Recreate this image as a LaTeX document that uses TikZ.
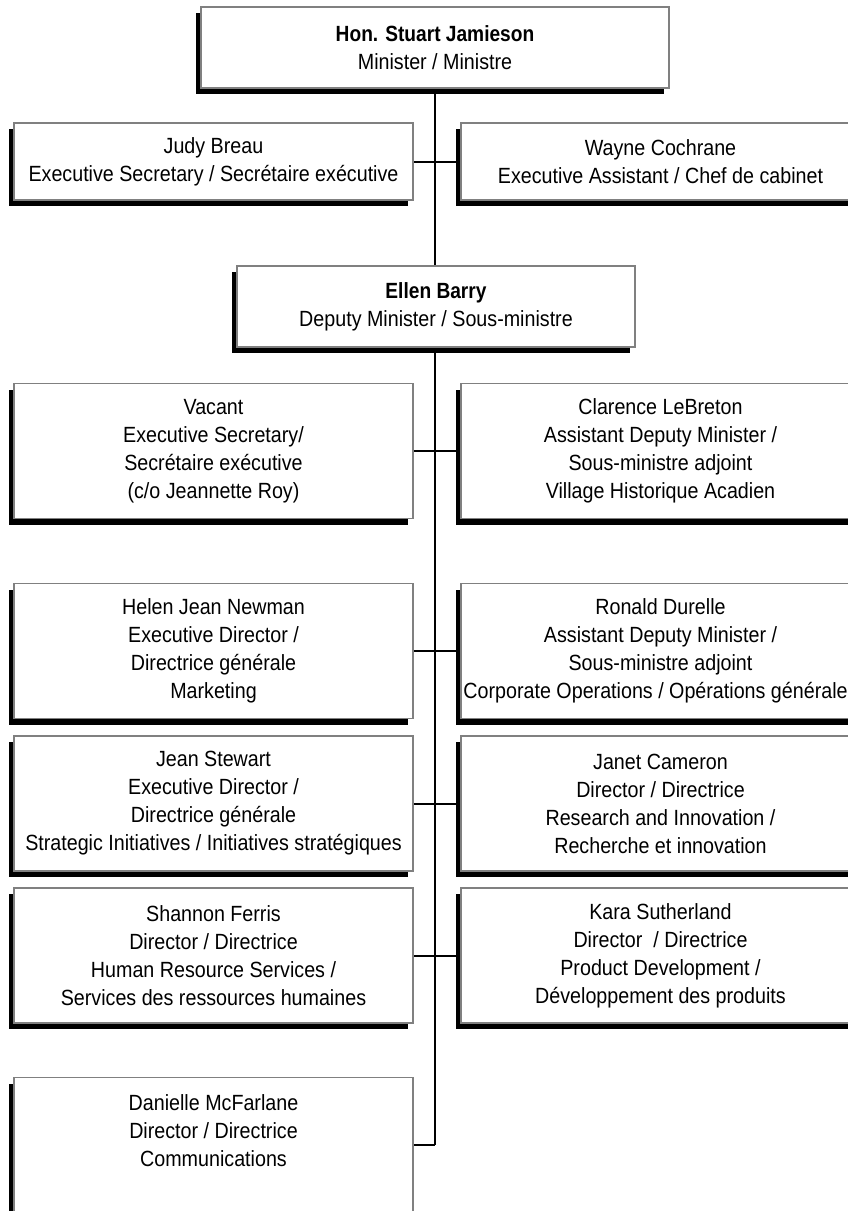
\documentclass[tikz,border=0pt]{standalone}
\usepackage{fontspec}
\setmainfont{Liberation Sans}[FakeStretch=0.895,BoldFeatures={FakeStretch=0.87}]
\usetikzlibrary{shadows,backgrounds}
\definecolor{boxgray}{RGB}{128,128,128}
\tikzset{
  orgbox/.style={draw=boxgray, line width=1.5pt, fill=white, align=center,
    inner sep=0pt, minimum width=399pt, minimum height=135pt,
    font=\fontsize{22}{28}\selectfont,
    drop shadow={shadow xshift=-5pt, shadow yshift=-6pt, fill=black, opacity=1}},
  link/.style={line width=2pt, draw=black}
}
\begin{document}
\begin{tikzpicture}[x=1pt,y=-1pt]
\useasboundingbox (0,0) rectangle (848,1211);
\clip (0,0) rectangle (848,1211);
% top
\node[orgbox, minimum width=468pt, minimum height=81pt] (min) at (435,47.5)
  {\textbf{Hon. Stuart Jamieson}\\Minister / Ministre};
\node[orgbox, minimum height=77pt] (judy) at (213.5,161.5)
  {Judy Breau\\Executive Secretary / Secrétaire exécutive};
\node[orgbox, minimum height=77pt] (wayne) at (660.5,161.5)
  {Wayne Cochrane\\Executive Assistant / Chef de cabinet};
\node[orgbox, minimum width=398pt, minimum height=81pt] (dm) at (436,306.5)
  {\textbf{Ellen Barry}\\Deputy Minister / Sous-ministre};
% row A
\node[orgbox] (vac) at (213.5,451)
  {Vacant\\Executive Secretary/\\ Secrétaire exécutive\\(c/o Jeannette Roy)};
\node[orgbox] (clar) at (660.5,451)
  {Clarence LeBreton\\Assistant Deputy Minister /\\Sous-ministre adjoint\\Village Historique Acadien};
% row B
\node[orgbox] (helen) at (213.5,651)
  {Helen Jean Newman\\Executive Director /\\Directrice générale\\Marketing};
\node[orgbox] (ron) at (660.5,651)
  {Ronald Durelle\\Assistant Deputy Minister /\\Sous-ministre adjoint\\Corporate Operations / Opérations générales};
% row C
\node[orgbox] (jean) at (213.5,803.5)
  {Jean Stewart\\Executive Director /\\Directrice générale\\Strategic Initiatives / Initiatives stratégiques};
\node[orgbox] (janet) at (660.5,803.5)
  {Janet Cameron\\Director / Directrice\\Research and Innovation /\\Recherche et innovation};
% row D
\node[orgbox] (shan) at (213.5,955.5)
  {Shannon Ferris\\Director / Directrice\\Human Resource Services /\\Services des ressources humaines};
\node[orgbox] (kara) at (660.5,955.5)
  {Kara Sutherland\\Director~ / Directrice\\Product Development /\\Développement des produits};
% row E
\node[orgbox] (dan) at (213.5,1145)
  {Danielle McFarlane\\Director / Directrice\\Communications\\\mbox{}};
\coordinate (spineend) at (435,1145);
\begin{pgfonlayer}{background}
  \draw[link] (min.south) -- (spineend);
  \draw[link] (judy.east) -- (wayne.west);
  \draw[link] (vac.east) -- (clar.west);
  \draw[link] (helen.east) -- (ron.west);
  \draw[link] (jean.east) -- (janet.west);
  \draw[link] (shan.east) -- (kara.west);
  \draw[link] (dan.east) -- (spineend);
\end{pgfonlayer}
\end{tikzpicture}
\end{document}
